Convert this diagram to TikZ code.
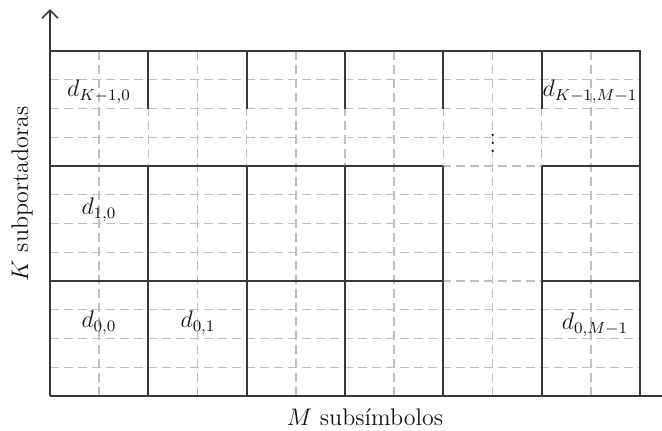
\documentclass[tikz,border=0pt]{standalone}
\usetikzlibrary{arrows.meta}
\begin{document}
\begin{tikzpicture}[x=0.5pt,y=-0.5pt,
  solidline/.style={draw=black!78, line width=1pt},
  gridline/.style={draw=black!25, line width=0.7pt, dash pattern=on 4.5pt off 2.5pt},
  axisline/.style={draw=black!78, line width=0.8pt},
  lbl/.style={font=\fontsize{12}{14}\selectfont, text=black!92, inner sep=0pt}]
\useasboundingbox (0,0) rectangle (662,430);
\clip (0,0) rectangle (662,430);
% dashed fine grid
\foreach \k in {1,...,11} \draw[gridline] ({50+590*\k/12},51) -- ({50+590*\k/12},396);
\foreach \k in {1,...,11} \draw[gridline] (50,{51+345*\k/12}) -- (640,{51+345*\k/12});
% solid block lines
\draw[solidline] (50,51) -- (640,51) -- (640,396);
\foreach \x in {148.3,246.7,345,443.3,541.7} \draw[solidline] (\x,51) -- (\x,108.5);
\foreach \y in {166,281} {
  \draw[solidline] (50,\y) -- (443.3,\y);
  \draw[solidline] (541.7,\y) -- (640,\y);
}
\foreach \x in {148.3,246.7,345,443.3,541.7} \draw[solidline] (\x,166) -- (\x,396);
% axes
\coordinate (o) at (50,396);
\coordinate (ytip) at (50,9);
\coordinate (xtip) at (674,396);
\draw[axisline, -{Straight Barb[length=4pt,width=8pt]}] (o) -- (ytip);
\draw[axisline, -{Straight Barb[length=4pt,width=8pt]}] (o) -- (xtip);
% labels
\node[lbl] (dK0) at (99,92) {$d_{K-1,0}$};
\node[lbl] (dKM) at (590,92) {$d_{K-1,M-1}$};
\node[lbl] (d10) at (99,210) {$d_{1,0}$};
\node[lbl] (d00) at (99,323) {$d_{0,0}$};
\node[lbl] (d01) at (198,323) {$d_{0,1}$};
\node[lbl] (d0M) at (595,325) {$d_{0,M-1}$};
\node[lbl] (vd) at (493,137) {$\vdots$};
\node[lbl] (xl) at (365,417) {$M$ subsímbolos};
\node[lbl, rotate=90] (yl) at (22,194) {$K$ subportadoras};
\end{tikzpicture}
\end{document}
